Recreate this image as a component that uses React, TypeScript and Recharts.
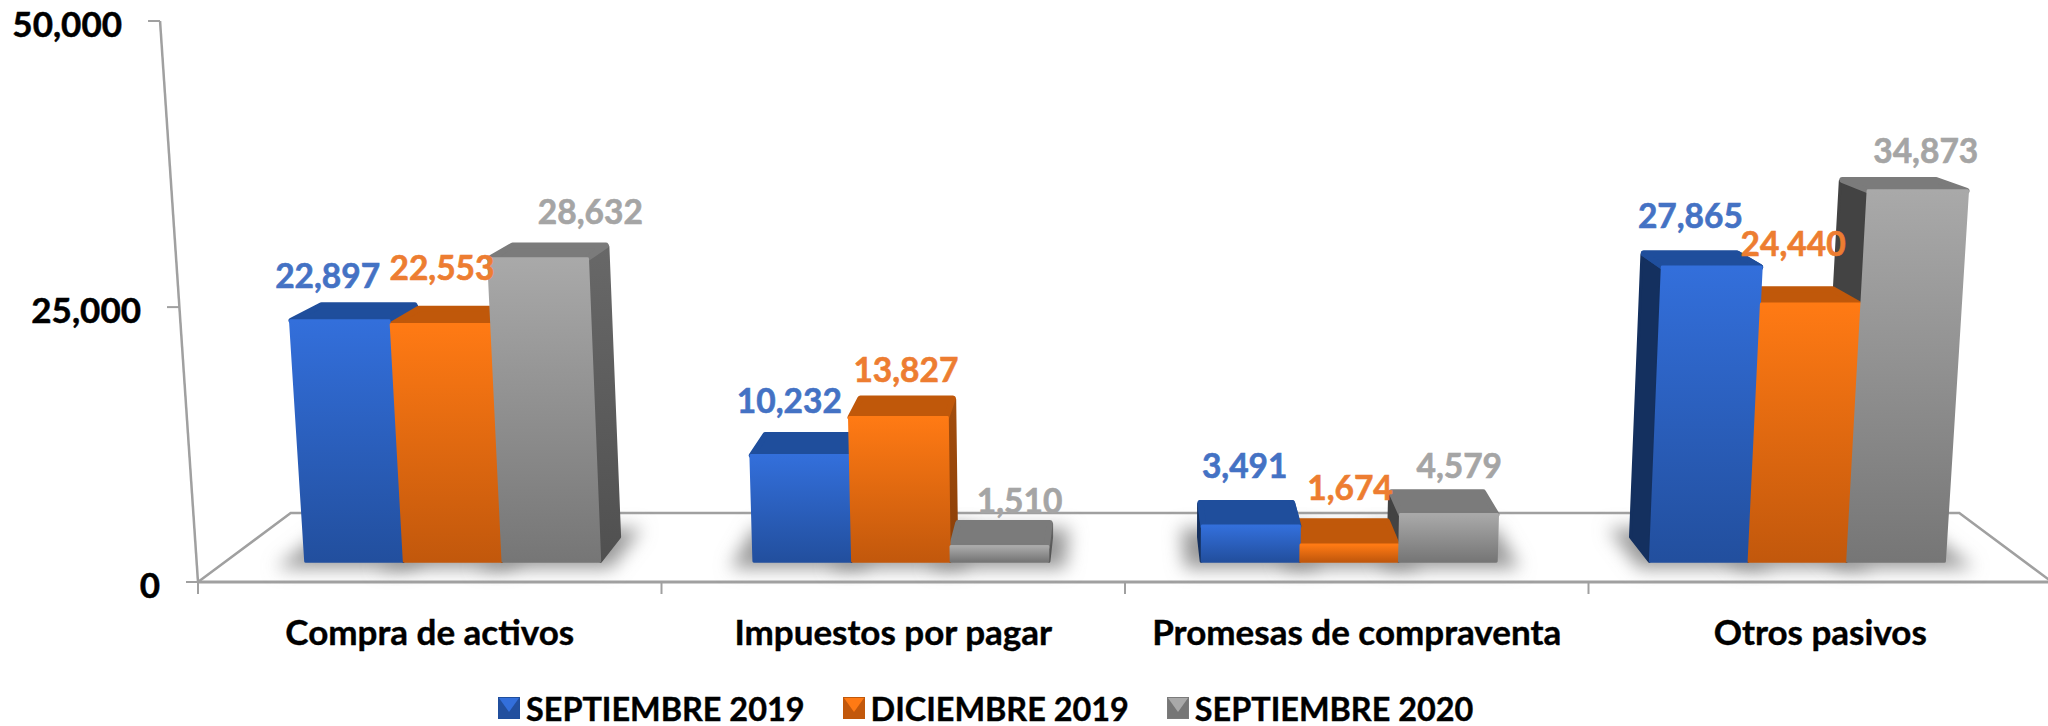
import { BarChart, Bar, XAxis, YAxis, Legend, LabelList } from "recharts";

const categories = ["Compra de activos", "Impuestos por pagar", "Promesas de compraventa", "Otros pasivos"];
const sep2019 = [22897, 10232, 3491, 27865];
const dic2019 = [22553, 13827, 1674, 24440];
const sep2020 = [28632, 1510, 4579, 34873];
const yTicks = [0, 25000, 50000];
const seriesNames = ["SEPTIEMBRE 2019", "DICIEMBRE 2019", "SEPTIEMBRE 2020"];

const chartData = categories.map((name, i) => ({
  name,
  s0: sep2019[i],
  s1: dic2019[i],
  s2: sep2020[i],
}));

// frame of the plot, in page pixels
const WIDTH = 2060;
const HEIGHT = 726;
const PLOT_LEFT = 198;
const PLOT_RIGHT = 2052;
const PLOT_TOP = 21;
const PLOT_BOTTOM = 582;
const PLOT_H = PLOT_BOTTOM - PLOT_TOP;
const CX = (PLOT_LEFT + PLOT_RIGHT) / 2;
const BAND = (PLOT_RIGHT - PLOT_LEFT) / categories.length;

// where the boxes stand on the floor (0 front edge, 1 back edge)
const BAR_FRONT = 0.3;
const BAR_BACK = 0.65;
const BAR_SCALE_X = 0.997;
const BAR_SCALE_Y = 0.991;

const palette = [
  { label: "#4472c4", hi: "#336fdb", lo: "#224f9e", top: "#1f4e9c", side: "#15305f", sideLo: "#10264c" },
  { label: "#ed7d31", hi: "#ff7a14", lo: "#c2580c", top: "#c0580a", side: "#a34d0d", sideLo: "#8a3f08" },
  { label: "#a5a5a5", hi: "#a9a9a9", lo: "#767676", top: "#7b7b7b", side: "#686868", sideLo: "#505050" },
];

// dark left faces on the right half of the chart
const leftFace = ["#14305f", "#8a3f08", "#434343"];

// hand placed data labels, offset from the back top edge of each box
const labelNudge = [
  [[-38, -27], [-21, -33], [-2, -37], [-2, -35]],
  [[-21, -39], [0, -27], [8, -33], [5, -43]],
  [[33, -31], [16, -22], [21, -26], [34, -26]],
];

const FONT = "Lato, Carlito, sans-serif";

function project(px: number, h: number, z: number) {
  const warped = h * (0.96 + (0.04 * h) / PLOT_H);
  const sH = 1 + 7.3e-5 * h;
  const sD = 1 - 0.1 * z;
  return [CX + (px - CX) * sD * sH, PLOT_BOTTOM - 69 * z - warped * (1 - 0.1 * z)];
}

function poly(points: number[][]) {
  return points.map((p) => p[0].toFixed(1) + "," + p[1].toFixed(1)).join(" ");
}

function barPoint(px: number, h: number, z: number) {
  return project(CX + (px - CX) * BAR_SCALE_X, h * BAR_SCALE_Y, z);
}

function TopFace({ series, l, r, h }: any) {
  const pts = [
    barPoint(l + 2, h - 1, BAR_FRONT),
    barPoint(r - 2, h - 1, BAR_FRONT),
    barPoint(r - 2, h - 1, BAR_BACK),
    barPoint(l + 2, h - 1, BAR_BACK),
  ];
  const color = palette[series].top;
  return <polygon points={poly(pts)} fill={color} stroke={color} strokeWidth={6} strokeLinejoin="round" />;
}

function FaceShape({ kind, series, x, width, height, index }: any) {
  const l = x;
  const r = x + width;
  const h = height;
  const fl = (px: number, hh: number) => barPoint(px, hh, BAR_FRONT);
  const bk = (px: number, hh: number) => barPoint(px, hh, BAR_BACK);

  if (kind === "shadow") {
    const pts = [project(l - 18, 0, 0.2), project(r + 18, 0, 0.2), project(r + 18, 0, 0.78), project(l - 18, 0, 0.78)];
    return <polygon points={poly(pts)} fill="#999999" filter="url(#floorBlur)" />;
  }
  if (kind === "side") {
    if (r < CX) {
      return (
        <polygon
          points={poly([fl(r, h - 2), bk(r, h - 2), bk(r, 0), fl(r, 0)])}
          fill={`url(#side${series})`}
          stroke={`url(#side${series})`}
          strokeWidth={3}
          strokeLinejoin="round"
        />
      );
    }
    if (l > CX) {
      return (
        <polygon
          points={poly([fl(l, h - 2), bk(l, h - 2), bk(l, 0), fl(l, 0)])}
          fill={leftFace[series]}
          stroke={leftFace[series]}
          strokeWidth={3}
          strokeLinejoin="round"
        />
      );
    }
    return <g />;
  }
  if (kind === "top") {
    return <TopFace series={series} l={l} r={r} h={h} />;
  }
  if (kind === "topFix") {
    // on the right half a taller box hides the back corner of its shorter right neighbour
    const heights = [sep2019, dic2019, sep2020];
    const next = heights[series + 1];
    if (l > CX && next && next[index] < heights[series][index]) {
      return <TopFace series={series} l={l} r={r} h={h} />;
    }
    return <g />;
  }
  return (
    <polygon
      points={poly([fl(l + 1, h - 1), fl(r - 1, h - 1), fl(r - 1, 0), fl(l + 1, 0)])}
      fill={`url(#front${series})`}
      stroke={`url(#front${series})`}
      strokeWidth={3}
      strokeLinejoin="round"
    />
  );
}

function ValueLabel({ series, x, width, height, value, index }: any) {
  const c = project(x + width / 2, height, BAR_BACK);
  const [dx, dy] = labelNudge[series][index];
  const color = palette[series].label;
  return (
    <text
      x={c[0] + dx}
      y={c[1] + dy}
      textAnchor="middle"
      dominantBaseline="central"
      fontFamily={FONT}
      fontWeight={700}
      fontSize={33.5}
      fill={color}
      stroke={color}
      strokeWidth={0.6}
    >
      {Number(value).toLocaleString("en-US")}
    </text>
  );
}

function YTick({ y, payload }: any) {
  const h = PLOT_BOTTOM - y;
  const p = project(PLOT_LEFT, h, 0);
  const base = project(PLOT_LEFT, 0, 0);
  return (
    <g>
      {payload.value === yTicks[yTicks.length - 1] && (
        <line x1={base[0]} y1={base[1]} x2={p[0]} y2={p[1]} stroke="#a0a0a0" strokeWidth={2.5} />
      )}
      <line x1={p[0] - 12} y1={p[1]} x2={p[0]} y2={p[1]} stroke="#a0a0a0" strokeWidth={2} />
      <text
        x={p[0] - 38}
        y={p[1] + 2}
        textAnchor="end"
        dominantBaseline="central"
        fontFamily={FONT}
        fontWeight={700}
        fontSize={35}
        fill="#000"
        stroke="#000"
        strokeWidth={0.5}
      >
        {Number(payload.value).toLocaleString("en-US")}
      </text>
    </g>
  );
}

function XTick({ x, payload }: any) {
  const edge = x - BAND / 2;
  return (
    <g>
      <line x1={edge} y1={PLOT_BOTTOM} x2={edge} y2={PLOT_BOTTOM + 12} stroke="#a0a0a0" strokeWidth={2} />
      <text
        x={x}
        y={PLOT_BOTTOM + 49}
        textAnchor="middle"
        dominantBaseline="central"
        fontFamily={FONT}
        fontWeight={700}
        fontSize={35}
        fill="#000"
        stroke="#000"
        strokeWidth={0.4}
      >
        {payload.value}
      </text>
    </g>
  );
}

function FloorFrame() {
  const fl = project(PLOT_LEFT, 0, 0);
  const fr = project(PLOT_RIGHT, 0, 0);
  const bl = project(PLOT_LEFT, 0, 1);
  const br = project(PLOT_RIGHT, 0, 1);
  return (
    <g>
      <polyline points={poly([fl, bl, br, fr])} fill="none" stroke="#a0a0a0" strokeWidth={2.5} />
      <line x1={fl[0]} y1={fl[1]} x2={fr[0]} y2={fr[1]} stroke="#a0a0a0" strokeWidth={3} />
    </g>
  );
}

function LegendBox({ payload }: any) {
  const items = (payload || []).filter((p: any) => p.type !== "none");
  return (
    <div style={{ display: "flex", alignItems: "center", height: 36, width: 2048, paddingLeft: 498, boxSizing: "border-box" }}>
      {items.map((item: any, i: number) => {
        const c = palette[i];
        return (
          <div key={item.value} style={{ display: "flex", alignItems: "center", marginLeft: i === 0 ? 0 : 38 }}>
            <svg width={22} height={22} style={{ marginRight: 6 }}>
              <rect width={22} height={22} fill={c.lo} />
              <polygon points="1,1 21,1 11,15" fill={c.hi} />
              <rect x={0.5} y={0.5} width={21} height={21} fill="none" stroke={c.top} />
            </svg>
            <span style={{ fontFamily: FONT, fontWeight: 700, fontSize: 32.4, color: "#000", whiteSpace: "nowrap", WebkitTextStroke: "0.4px #000" }}>
              {item.value}
            </span>
          </div>
        );
      })}
    </div>
  );
}

const seriesKeys = ["s0", "s1", "s2"];
const passes = ["shadow", "side", "top", "topFix", "front", "labels"];

export default function App() {
  return (
    <div style={{ position: "absolute", left: 0, top: 0, width: 2048, height: HEIGHT, overflow: "hidden", background: "#fff" }}>
      <BarChart
        width={WIDTH}
        height={HEIGHT}
        data={chartData}
        barCategoryGap="17%"
        barGap={0}
        margin={{ top: PLOT_TOP, left: PLOT_LEFT - 1, right: WIDTH - PLOT_RIGHT, bottom: HEIGHT - PLOT_BOTTOM - 1 - 36 }}
      >
        <defs>
          <filter id="floorBlur" x="-30%" y="-60%" width="160%" height="220%">
            <feGaussianBlur stdDeviation="9" />
          </filter>
          {palette.map((c, i) => (
            <linearGradient key={"front" + i} id={"front" + i} x1="0" y1="0" x2="0" y2="1">
              <stop offset="0%" stopColor={c.hi} />
              <stop offset="100%" stopColor={c.lo} />
            </linearGradient>
          ))}
          {palette.map((c, i) => (
            <linearGradient key={"side" + i} id={"side" + i} x1="0" y1="0" x2="0" y2="1">
              <stop offset="0%" stopColor={c.side} />
              <stop offset="100%" stopColor={c.sideLo} />
            </linearGradient>
          ))}
        </defs>
        <FloorFrame />
        <YAxis
          domain={[0, 50000]}
          ticks={yTicks}
          interval={0}
          width={1}
          axisLine={false}
          tickLine={false}
          tick={<YTick />}
        />
        <XAxis dataKey="name" height={1} axisLine={false} tickLine={false} interval={0} tick={<XTick />} />
        {passes.map((p) => (
          <XAxis key={p} xAxisId={p} dataKey="name" hide />
        ))}
        {passes.flatMap((pass) =>
          seriesKeys.map((key, s) => (
            <Bar
              key={pass + key}
              xAxisId={pass}
              dataKey={key}
              name={seriesNames[s]}
              fill={palette[s].hi}
              legendType={pass === "front" ? "rect" : "none"}
              isAnimationActive={false}
              shape={(props: any) =>
                pass === "labels" ? <g /> : <FaceShape {...props} kind={pass} series={s} />
              }
            >
              {pass === "labels" && <LabelList dataKey={key} content={(props: any) => <ValueLabel {...props} series={s} />} />}
            </Bar>
          ))
        )}
        <Legend content={<LegendBox />} height={36} itemSorter={null} wrapperStyle={{ left: 0, bottom: 0, width: 2048 }} />
      </BarChart>
    </div>
  );
}
